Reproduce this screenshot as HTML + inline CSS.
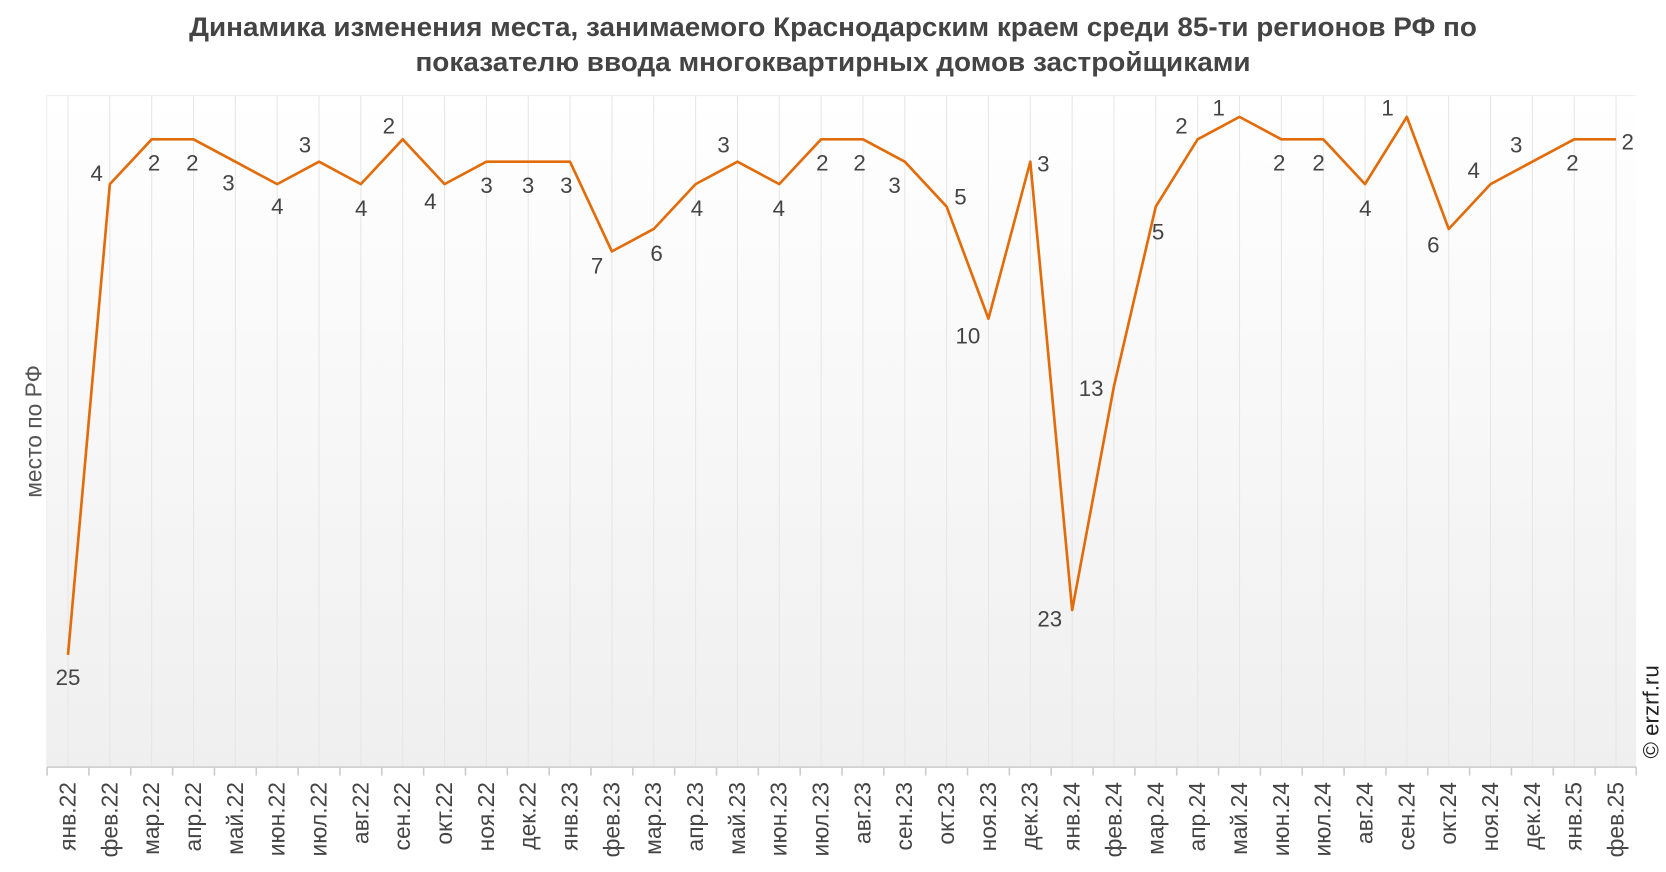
<!DOCTYPE html>
<html><head><meta charset="utf-8"><style>
html,body{margin:0;padding:0;background:#fff;}
svg{display:block;font-family:"Liberation Sans","DejaVu Sans",sans-serif;}
</style></head><body>
<svg width="1666" height="872" viewBox="0 0 1568 820.7" xmlns="http://www.w3.org/2000/svg">
<defs><linearGradient id="bg" x1="0" y1="0" x2="0" y2="1"><stop offset="0" stop-color="#ffffff"/><stop offset="1" stop-color="#efefef"/></linearGradient></defs>
<text x="784" y="34" text-anchor="middle" font-size="25.5" font-weight="bold" fill="#444" textLength="1212" lengthAdjust="spacingAndGlyphs">Динамика изменения места, занимаемого Краснодарским краем среди 85-ти регионов РФ по</text>
<text x="784" y="67" text-anchor="middle" font-size="25.5" font-weight="bold" fill="#444" textLength="786" lengthAdjust="spacingAndGlyphs">показателю ввода многоквартирных домов застройщиками</text>
<rect x="44" y="90" width="1496" height="632" fill="url(#bg)"/>
<line x1="44" y1="90" x2="1540" y2="90" stroke="#eee"/>
<line x1="44" y1="90" x2="44" y2="722" stroke="#eee"/>
<g id="grid" stroke="#e6e6e6" stroke-width="1"></g>
<line x1="44" y1="722" x2="1540" y2="722" stroke="#ccc" stroke-width="1.5"/>
<g id="ticks" stroke="#ccc" stroke-width="1.5"></g>
<polyline id="line" fill="none" stroke="#e36c0a" stroke-width="2.5" stroke-linejoin="round"/>
<g id="lbl" font-size="21" fill="#444" text-anchor="middle"></g>
<g id="xl" font-size="21.5" fill="#444"></g>
<text transform="translate(39,406) rotate(-90)" text-anchor="middle" font-size="21.5" fill="#555">место по РФ</text>
<text transform="translate(1561,670) rotate(-90)" text-anchor="middle" font-size="21" fill="#222">© erzrf.ru</text>
</svg>
<script>
var v=[25,4,2,2,3,4,3,4,2,4,3,3,3,7,6,4,3,4,2,2,3,5,10,3,23,13,5,2,1,2,2,4,1,6,4,3,2,2];
var n=["янв.22","фев.22","мар.22","апр.22","май.22","июн.22","июл.22","авг.22","сен.22","окт.22","ноя.22","дек.22","янв.23","фев.23","мар.23","апр.23","май.23","июн.23","июл.23","авг.23","сен.23","окт.23","ноя.23","дек.23","янв.24","фев.24","мар.24","апр.24","май.24","июн.24","июл.24","авг.24","сен.24","окт.24","ноя.24","дек.24","янв.25","фев.25"];
var L=[[64,637],[91,163],[145,153],[181,153],[215,172],[261,194],[287,136],[340,196],[366,118],[405,189],[458,174],[497,174],[533,174],[562,250],[618,238],[656,196],[681,136],[733,196],[774,153],[809,153],[842,174],[904,185],[911,316],[982,154],[988,582],[1027,365],[1090,218],[1112,118],[1147,101],[1204,153],[1241,153],[1285,196],[1306,101],[1349,230],[1387,160],[1427,136],[1480,153],[1532,133]];
var NS="http://www.w3.org/2000/svg";
function el(t,a,p,tx){var e=document.createElementNS(NS,t);for(var k in a)e.setAttribute(k,a[k]);if(tx)e.textContent=tx;document.getElementById(p).appendChild(e);}
var pts=[],s=(1521-64)/37;
for(var i=0;i<38;i++){var x=64+i*s,y=110+(v[i]-1)*21.1;pts.push(x.toFixed(1)+","+y.toFixed(1));
el("line",{x1:x,y1:90,x2:x,y2:722},"grid");
el("line",{x1:x-s/2,y1:722,x2:x-s/2,y2:730},"ticks");
el("text",{x:L[i][0],y:L[i][1]+7.5},"lbl",String(v[i]));
el("text",{transform:"translate("+(x+7)+",736) rotate(-90)","text-anchor":"end"},"xl",n[i]);}
el("line",{x1:1540,y1:722,x2:1540,y2:730},"ticks");
document.getElementById("line").setAttribute("points",pts.join(" "));
</script>
</body></html>
